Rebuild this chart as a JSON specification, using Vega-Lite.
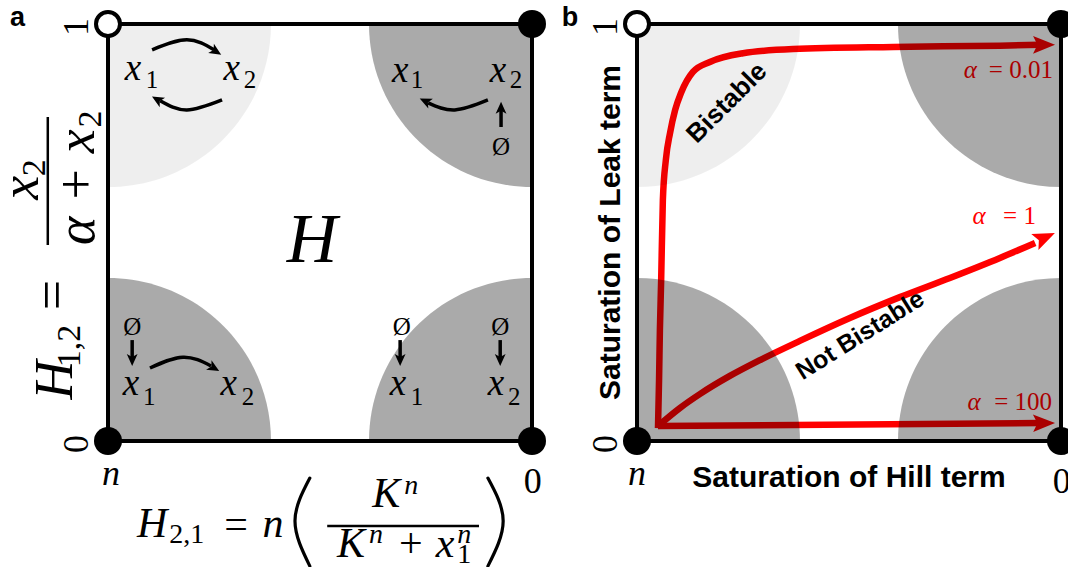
{
"$schema":"https://vega.github.io/schema/vega-lite/v6.json",
"width":1068,"height":567,"padding":0,"autosize":{"type":"none"},
"background":"white",
"config":{"view":{"stroke":null}},
"resolve":{"scale":{"x":"independent"}},
"layer":[
{
"encoding":{
"x":{"field":"x","type":"quantitative","scale":{"domain":[-0.25472,2.26415],"nice":false,"zero":false},"axis":null},
"y":{"field":"y","type":"quantitative","scale":{"domain":[-0.30216,1.05755],"nice":false,"zero":false},"axis":null}
},
"layer":[
{"data":{"values":[{"x":0,"y":1,"c":"tl"},{"x":1,"y":1,"c":"tr"},{"x":0,"y":0,"c":"bl"},{"x":1,"y":0,"c":"br"}]},
"mark":{"type":"point","filled":true,"opacity":1,"size":106276,"strokeWidth":0},
"encoding":{
"shape":{"field":"c","type":"nominal","scale":{"domain":["tl","tr","bl","br"],"range":["M0 0 L1 0 A1 1 0 0 1 0 1 Z","M0 0 L0 1 A1 1 0 0 1 -1 0 Z","M0 0 L0 -1 A1 1 0 0 1 1 0 Z","M0 0 L-1 0 A1 1 0 0 1 0 -1 Z"]},"legend":null},
"fill":{"field":"c","type":"nominal","scale":{"domain":["tl","tr","bl","br"],"range":["rgba(0,0,0,0.065)","rgba(0,0,0,0.333)","rgba(0,0,0,0.333)","rgba(0,0,0,0.333)"]},"legend":null}}},
{"data":{"values":[
{"id":"a1","x":0.104,"y":0.938},{"id":"a1","x":0.186,"y":0.962},{"id":"a1","x":0.250,"y":0.938},
{"id":"a2","x":0.123,"y":0.816},{"id":"a2","x":0.186,"y":0.794},{"id":"a2","x":0.269,"y":0.818},
{"id":"a3","x":0.755,"y":0.811},{"id":"a3","x":0.818,"y":0.794},{"id":"a3","x":0.896,"y":0.818},
{"id":"a4","x":0.099,"y":0.175},{"id":"a4","x":0.177,"y":0.201},{"id":"a4","x":0.243,"y":0.180},
{"id":"s1","x":0.057,"y":0.242},{"id":"s1","x":0.057,"y":0.194},
{"id":"s2","x":0.689,"y":0.242},{"id":"s2","x":0.689,"y":0.194},
{"id":"s3","x":0.925,"y":0.242},{"id":"s3","x":0.925,"y":0.194},
{"id":"s4","x":0.927,"y":0.753},{"id":"s4","x":0.927,"y":0.799}]},
"mark":{"type":"line","interpolate":"natural","color":"black","strokeWidth":3.5,"strokeCap":"butt"},
"encoding":{"detail":{"field":"id","type":"nominal"}}},
{"data":{"values":[{"x":0.255,"y":0.934,"a":32},{"x":0.116,"y":0.819,"a":210},{"x":0.748,"y":0.815,"a":205},{"x":0.250,"y":0.175,"a":30},{"x":0.057,"y":0.194,"a":90},{"x":0.689,"y":0.194,"a":90},{"x":0.925,"y":0.194,"a":90},{"x":0.927,"y":0.799,"a":270}]},
"mark":{"type":"point","filled":true,"opacity":1,"color":"black","size":144,"shape":"M1 0 L-1 -0.9 L-0.5 0 L-1 0.9 Z","strokeWidth":0},
"encoding":{"angle":{"field":"a","type":"quantitative","scale":null}}},
{"data":{"values":[{"x":0.059,"y":0.866,"t":"x"},{"x":0.292,"y":0.866,"t":"x"},{"x":0.689,"y":0.861,"t":"x"},{"x":0.920,"y":0.861,"t":"x"},{"x":0.054,"y":0.110,"t":"x"},{"x":0.285,"y":0.110,"t":"x"},{"x":0.684,"y":0.110,"t":"x"},{"x":0.915,"y":0.110,"t":"x"}]},
"mark":{"type":"text","font":"Liberation Serif","fontStyle":"italic","fontSize":37,"align":"center","baseline":"alphabetic","color":"black"},
"encoding":{"text":{"field":"t","type":"nominal"}}},
{"data":{"values":[{"x":0.104,"y":0.847,"t":"1"},{"x":0.335,"y":0.847,"t":"2"},{"x":0.729,"y":0.847,"t":"1"},{"x":0.962,"y":0.847,"t":"2"},{"x":0.097,"y":0.086,"t":"1"},{"x":0.330,"y":0.086,"t":"2"},{"x":0.729,"y":0.086,"t":"1"},{"x":0.958,"y":0.086,"t":"2"},{"x":0.927,"y":0.686,"t":"Ø"},{"x":0.057,"y":0.254,"t":"Ø"},{"x":0.693,"y":0.254,"t":"Ø"},{"x":0.925,"y":0.254,"t":"Ø"}]},
"mark":{"type":"text","font":"Liberation Serif","fontSize":25,"align":"center","baseline":"alphabetic","color":"black"},
"encoding":{"text":{"field":"t","type":"nominal"}}},
{"data":{"values":[{"x":0.481,"y":0.429,"t":"H"}]},
"mark":{"type":"text","font":"Liberation Serif","fontStyle":"italic","fontSize":70,"align":"center","baseline":"alphabetic","color":"black"},
"encoding":{"text":{"field":"t","type":"nominal"}}},
{"data":{"values":[{"x":0.007,"y":-0.106,"t":"n"}]},
"mark":{"type":"text","font":"Liberation Serif","fontStyle":"italic","fontSize":36,"align":"center","baseline":"alphabetic","color":"black"},
"encoding":{"text":{"field":"t","type":"nominal"}}},
{"data":{"values":[{"x":1.002,"y":-0.125,"t":"0"}]},
"mark":{"type":"text","font":"Liberation Serif","fontSize":36,"align":"center","baseline":"alphabetic","color":"black"},
"encoding":{"text":{"field":"t","type":"nominal"}}},
{"data":{"values":[{"x":-0.072,"y":0.993,"t":"1"},{"x":-0.072,"y":-0.007,"t":"0"}]},
"mark":{"type":"text","font":"Liberation Serif","fontSize":36,"angle":270,"align":"center","baseline":"middle","color":"black"},
"encoding":{"text":{"field":"t","type":"nominal"}}},
{"data":{"values":[{"x":-0.2134,"y":0.995,"t":"a"}]},
"mark":{"type":"text","font":"Liberation Sans","fontWeight":"bold","fontSize":27,"align":"center","baseline":"alphabetic","color":"black"},
"encoding":{"text":{"field":"t","type":"nominal"}}},
{"data":{"values":[{"x":-0.085,"y":0.146,"t":"H"},{"x":-0.165,"y":0.607,"t":"x"},{"x":-0.033,"y":0.609,"t":"α + x"}]},
"mark":{"type":"text","font":"Liberation Serif","fontStyle":"italic","fontSize":54,"angle":270,"align":"center","baseline":"alphabetic","color":"black"},
"encoding":{"text":{"field":"t","type":"nominal"}}},
{"data":{"values":[{"x":-0.090,"y":0.350,"t":"="}]},
"mark":{"type":"text","font":"Liberation Serif","fontSize":54,"angle":270,"align":"center","baseline":"alphabetic","color":"black"},
"encoding":{"text":{"field":"t","type":"nominal"}}},
{"data":{"values":[{"x":-0.066,"y":0.228,"t":"1,2"},{"x":-0.149,"y":0.655,"t":"2"},{"x":-0.017,"y":0.772,"t":"2"}]},
"mark":{"type":"text","font":"Liberation Serif","fontSize":34,"angle":270,"align":"center","baseline":"alphabetic","color":"black"},
"encoding":{"text":{"field":"t","type":"nominal"}}},
{"data":{"values":[{"x":-0.142,"x2":-0.142,"y":0.470,"y2":0.777},{"x":0.517,"x2":0.875,"y":-0.204,"y2":-0.204}]},
"mark":{"type":"rule","color":"black","strokeWidth":2.5},
"encoding":{"x2":{"field":"x2"},"y2":{"field":"y2"}}},
{"data":{"values":[
{"p":"l","o":1,"x":0.476,"y":-0.089},{"p":"l","o":2,"x":0.441,"y":-0.192},{"p":"l","o":3,"x":0.476,"y":-0.300},
{"p":"r","o":1,"x":0.896,"y":-0.089},{"p":"r","o":2,"x":0.932,"y":-0.192},{"p":"r","o":3,"x":0.896,"y":-0.300}]},
"mark":{"type":"line","interpolate":"natural","color":"black","strokeWidth":3.2,"strokeCap":"round"},
"encoding":{"detail":{"field":"p","type":"nominal"},"order":{"field":"o","type":"quantitative"}}},
{"data":{"values":[{"x":0.104,"y":-0.230,"t":"H"},{"x":0.389,"y":-0.230,"t":"n"},{"x":0.656,"y":-0.158,"t":"K"},{"x":0.573,"y":-0.278,"t":"K"},{"x":0.795,"y":-0.278,"t":"x"}]},
"mark":{"type":"text","font":"Liberation Serif","fontStyle":"italic","fontSize":42,"align":"center","baseline":"alphabetic","color":"black"},
"encoding":{"text":{"field":"t","type":"nominal"}}},
{"data":{"values":[{"x":0.302,"y":-0.233,"t":"="},{"x":0.714,"y":-0.278,"t":"+"}]},
"mark":{"type":"text","font":"Liberation Serif","fontSize":42,"align":"center","baseline":"alphabetic","color":"black"},
"encoding":{"text":{"field":"t","type":"nominal"}}},
{"data":{"values":[{"x":0.186,"y":-0.245,"t":"2,1"},{"x":0.840,"y":-0.293,"t":"1"}]},
"mark":{"type":"text","font":"Liberation Serif","fontSize":28,"align":"center","baseline":"alphabetic","color":"black"},
"encoding":{"text":{"field":"t","type":"nominal"}}},
{"data":{"values":[{"x":0.715,"y":-0.127,"t":"n"},{"x":0.632,"y":-0.245,"t":"n"},{"x":0.840,"y":-0.245,"t":"n"}]},
"mark":{"type":"text","font":"Liberation Serif","fontStyle":"italic","fontSize":28,"align":"center","baseline":"alphabetic","color":"black"},
"encoding":{"text":{"field":"t","type":"nominal"}}},
{"data":{"values":[{"x":0,"y":0,"x2":1,"y2":1}]},
"mark":{"type":"rect","fillOpacity":0,"stroke":"black","strokeWidth":4},
"encoding":{"x2":{"field":"x2"},"y2":{"field":"y2"}}},
{"data":{"values":[{"x":1,"y":1},{"x":0,"y":0},{"x":1,"y":0}]},
"mark":{"type":"point","filled":true,"opacity":1,"color":"black","size":784,"shape":"circle","strokeWidth":0}},
{"data":{"values":[{"x":0,"y":1}]},
"mark":{"type":"point","filled":false,"opacity":1,"fill":"white","fillOpacity":1,"stroke":"black","strokeWidth":4,"size":576,"shape":"circle"}}
]
},
{
"encoding":{
"x":{"field":"x","type":"quantitative","scale":{"domain":[-1.50236,1.01651],"nice":false,"zero":false},"axis":null},
"y":{"field":"y","type":"quantitative","scale":{"domain":[-0.30216,1.05755],"nice":false,"zero":false},"axis":null}
},
"layer":[
{"data":{"values":[
{"s":"0.01","x":0.0495,"y":0.031},{"s":"0.01","x":0.052,"y":0.146},{"s":"0.01","x":0.054,"y":0.266},{"s":"0.01","x":0.057,"y":0.386},{"s":"0.01","x":0.061,"y":0.578},{"s":"0.01","x":0.068,"y":0.674},{"s":"0.01","x":0.078,"y":0.739},{"s":"0.01","x":0.090,"y":0.794},{"s":"0.01","x":0.104,"y":0.835},{"s":"0.01","x":0.132,"y":0.885},{"s":"0.01","x":0.172,"y":0.909},{"s":"0.01","x":0.250,"y":0.930},{"s":"0.01","x":0.368,"y":0.940},{"s":"0.01","x":0.604,"y":0.945},{"s":"0.01","x":0.856,"y":0.948},{"s":"0.01","x":0.950,"y":0.950},
{"s":"1","x":0.0495,"y":0.036},{"s":"1","x":0.101,"y":0.079},{"s":"1","x":0.149,"y":0.113},{"s":"1","x":0.219,"y":0.156},{"s":"1","x":0.290,"y":0.194},{"s":"1","x":0.384,"y":0.240},{"s":"1","x":0.502,"y":0.295},{"s":"1","x":0.620,"y":0.345},{"s":"1","x":0.738,"y":0.391},{"s":"1","x":0.856,"y":0.439},{"s":"1","x":0.939,"y":0.475},
{"s":"100","x":0.0495,"y":0.036},{"s":"100","x":0.950,"y":0.043}]},
"mark":{"type":"line","interpolate":"monotone","color":"#ff0000","strokeWidth":6.5,"strokeCap":"butt"},
"encoding":{"detail":{"field":"s","type":"nominal"}}},
{"data":{"values":[{"x":0.960,"y":0.950,"a":0},{"x":0.962,"y":0.488,"a":336},{"x":0.960,"y":0.043,"a":359}]},
"mark":{"type":"point","filled":true,"opacity":1,"color":"#ff0000","size":484,"shape":"M1 0 L-1 -0.8 L-0.6 0 L-1 0.8 Z","strokeWidth":0},
"encoding":{"angle":{"field":"a","type":"quantitative","scale":null}}},
{"data":{"values":[{"x":0.786,"y":0.871,"t":"α"},{"x":0.807,"y":0.520,"t":"α"},{"x":0.795,"y":0.074,"t":"α"}]},
"mark":{"type":"text","font":"Liberation Serif","fontStyle":"italic","fontSize":25,"align":"center","baseline":"alphabetic","color":"#ff0000"},
"encoding":{"text":{"field":"t","type":"nominal"}}},
{"data":{"values":[{"x":0.981,"y":0.871,"t":"= 0.01"},{"x":0.941,"y":0.520,"t":"= 1"},{"x":0.979,"y":0.074,"t":"= 100"}]},
"mark":{"type":"text","font":"Liberation Serif","fontSize":25,"align":"right","baseline":"alphabetic","color":"#ff0000"},
"encoding":{"text":{"field":"t","type":"nominal"}}},
{"data":{"values":[{"x":0,"y":1,"c":"tl"},{"x":1,"y":1,"c":"tr"},{"x":0,"y":0,"c":"bl"},{"x":1,"y":0,"c":"br"}]},
"mark":{"type":"point","filled":true,"opacity":1,"size":106276,"strokeWidth":0},
"encoding":{
"shape":{"field":"c","type":"nominal","scale":{"domain":["tl","tr","bl","br"],"range":["M0 0 L1 0 A1 1 0 0 1 0 1 Z","M0 0 L0 1 A1 1 0 0 1 -1 0 Z","M0 0 L0 -1 A1 1 0 0 1 1 0 Z","M0 0 L-1 0 A1 1 0 0 1 0 -1 Z"]},"legend":null},
"fill":{"field":"c","type":"nominal","scale":{"domain":["tl","tr","bl","br"],"range":["rgba(0,0,0,0.065)","rgba(0,0,0,0.333)","rgba(0,0,0,0.333)","rgba(0,0,0,0.333)"]},"legend":null}}},
{"data":{"values":[{"x":-0.158,"y":0.995,"t":"b"}]},
"mark":{"type":"text","font":"Liberation Sans","fontWeight":"bold","fontSize":27,"align":"center","baseline":"alphabetic","color":"black"},
"encoding":{"text":{"field":"t","type":"nominal"}}},
{"data":{"values":[{"x":-0.072,"y":0.993,"t":"1"},{"x":-0.072,"y":-0.007,"t":"0"}]},
"mark":{"type":"text","font":"Liberation Serif","fontSize":36,"angle":270,"align":"center","baseline":"middle","color":"black"},
"encoding":{"text":{"field":"t","type":"nominal"}}},
{"data":{"values":[{"x":0.0,"y":-0.106,"t":"n"}]},
"mark":{"type":"text","font":"Liberation Serif","fontStyle":"italic","fontSize":36,"align":"center","baseline":"alphabetic","color":"black"},
"encoding":{"text":{"field":"t","type":"nominal"}}},
{"data":{"values":[{"x":1.002,"y":-0.125,"t":"0"}]},
"mark":{"type":"text","font":"Liberation Serif","fontSize":36,"align":"center","baseline":"alphabetic","color":"black"},
"encoding":{"text":{"field":"t","type":"nominal"}}},
{"data":{"values":[{"x":0.5,"y":-0.110,"t":"Saturation of Hill term"}]},
"mark":{"type":"text","font":"Liberation Sans","fontWeight":"bold","fontSize":30,"align":"center","baseline":"alphabetic","color":"black"},
"encoding":{"text":{"field":"t","type":"nominal"}}},
{"data":{"values":[{"x":-0.040,"y":0.5,"t":"Saturation of Leak term"}]},
"mark":{"type":"text","font":"Liberation Sans","fontWeight":"bold","fontSize":30,"angle":270,"align":"center","baseline":"alphabetic","color":"black"},
"encoding":{"text":{"field":"t","type":"nominal"}}},
{"data":{"values":[{"x":0.212,"y":0.811,"t":"Bistable"}]},
"mark":{"type":"text","font":"Liberation Sans","fontWeight":"bold","fontSize":26,"angle":315,"align":"center","baseline":"middle","color":"black"},
"encoding":{"text":{"field":"t","type":"nominal"}}},
{"data":{"values":[{"x":0.526,"y":0.254,"t":"Not Bistable"}]},
"mark":{"type":"text","font":"Liberation Sans","fontWeight":"bold","fontSize":25,"angle":328,"align":"center","baseline":"middle","color":"black"},
"encoding":{"text":{"field":"t","type":"nominal"}}},
{"data":{"values":[{"x":0,"y":0,"x2":1,"y2":1}]},
"mark":{"type":"rect","fillOpacity":0,"stroke":"black","strokeWidth":4},
"encoding":{"x2":{"field":"x2"},"y2":{"field":"y2"}}},
{"data":{"values":[{"x":1,"y":1},{"x":0,"y":0},{"x":1,"y":0}]},
"mark":{"type":"point","filled":true,"opacity":1,"color":"black","size":784,"shape":"circle","strokeWidth":0}},
{"data":{"values":[{"x":0,"y":1}]},
"mark":{"type":"point","filled":false,"opacity":1,"fill":"white","fillOpacity":1,"stroke":"black","strokeWidth":4,"size":576,"shape":"circle"}}
]
}
]
}
